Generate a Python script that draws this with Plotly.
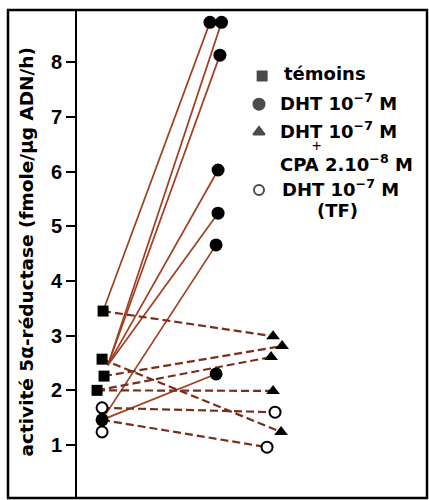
import plotly.graph_objects as go

# ---- data ----
# left (initial) column
temoins_x = [1.009, 1.0, 1.017, 0.957]
temoins_y = [3.45, 2.57, 2.26, 2.00]
dht_left_x = [1.0]
dht_left_y = [1.46]
tf_left_x = [1.0, 1.0]
tf_left_y = [1.68, 1.24]

# right columns
dht_x = [1.93, 2.03, 2.016, 2.0, 2.0, 1.983, 1.983]
dht_y = [8.73, 8.73, 8.13, 6.03, 5.24, 4.66, 2.30]
cpa_x = [2.474, 2.552, 2.457, 2.474, 2.543]
cpa_y = [2.99, 2.81, 2.61, 1.99, 1.24]
tf_x = [2.491, 2.422]
tf_y = [1.60, 0.96]

# connecting segments (start -> end)
solid_x0 = [1.009, 1.05, 1.05, 1.05, 1.05, 1.0, 1.0]
solid_y0 = [3.45, 2.46, 2.46, 2.46, 2.46, 1.46, 1.46]
solid_x1 = [1.93, 2.03, 2.016, 2.0, 2.0, 1.983, 1.983]
solid_y1 = [8.73, 8.73, 8.13, 6.03, 5.24, 4.66, 2.30]

dash_x0 = [1.009, 1.0, 1.017, 0.957, 0.957, 1.0, 1.0]
dash_y0 = [3.45, 2.57, 2.26, 2.00, 2.00, 1.68, 1.46]
dash_x1 = [2.474, 2.543, 2.552, 2.457, 2.474, 2.491, 2.422]
dash_y1 = [2.99, 1.24, 2.81, 2.61, 1.99, 1.60, 0.96]

y_ticks = [1, 2, 3, 4, 5, 6, 7, 8]


def segs(x0, y0, x1, y1):
    xs, ys = [], []
    for a, b, c, d in zip(x0, y0, x1, y1):
        xs += [a, c, None]
        ys += [b, d, None]
    return xs, ys


FONT = "Liberation Sans, Arial, Helvetica, sans-serif"
LFONT = "DejaVu Sans, Liberation Sans, Arial, sans-serif"

fig = go.Figure()

sx, sy = segs(solid_x0, solid_y0, solid_x1, solid_y1)
fig.add_trace(go.Scatter(x=sx, y=sy, mode="lines",
                         line=dict(color="#a03f1f", width=1.7),
                         hoverinfo="skip", showlegend=False))
dx, dy = segs(dash_x0, dash_y0, dash_x1, dash_y1)
fig.add_trace(go.Scatter(x=dx, y=dy, mode="lines",
                         line=dict(color="#7a2d1a", width=2.2, dash="8px,4px"),
                         hoverinfo="skip", showlegend=False))

fig.add_trace(go.Scatter(x=temoins_x, y=temoins_y, mode="markers",
                         marker=dict(symbol="square", size=11, color="black"),
                         showlegend=False))
fig.add_trace(go.Scatter(x=dht_left_x + dht_x, y=dht_left_y + dht_y, mode="markers",
                         marker=dict(symbol="circle", size=13, color="black"),
                         showlegend=False))
fig.add_trace(go.Scatter(x=cpa_x, y=cpa_y, mode="markers",
                         marker=dict(symbol="triangle-up", size=12, color="black"),
                         showlegend=False))
fig.add_trace(go.Scatter(x=tf_left_x + tf_x, y=tf_left_y + tf_y, mode="markers",
                         marker=dict(symbol="circle", size=11, color="white",
                                     line=dict(color="black", width=2)),
                         showlegend=False))

# legend symbols on an overlay axis in paper-like units
leg_sym = ["square", "circle", "triangle-up", "circle"]
leg_size = [9, 11, 10, 10]
leg_fill = ["black", "black", "black", "white"]
leg_px = [0.529, 0.52, 0.52, 0.52]
leg_py = [0.865, 0.807, 0.750, 0.631]
fig.add_trace(go.Scatter(x=leg_px, y=leg_py, xaxis="x2", yaxis="y2", mode="markers",
                         marker=dict(symbol=leg_sym, size=leg_size, color=leg_fill,
                                     line=dict(color="black", width=2)),
                         showlegend=False, hoverinfo="skip"))

tf = dict(family=LFONT, size=18, color="black", weight="bold")
ann = [
    dict(text="témoins", x=0.585, y=0.869),
    dict(text="DHT 10<sup>−7</sup> M", x=0.574, y=0.811),
    dict(text="DHT 10<sup>−7</sup> M", x=0.574, y=0.754),
    dict(text="CPA 2.10<sup>−8</sup> M", x=0.574, y=0.686),
    dict(text="DHT 10<sup>−7</sup> M", x=0.58, y=0.635),
]
annotations = []
for a in ann:
    annotations.append(dict(text=a["text"], x=a["x"], y=a["y"], xref="paper", yref="paper",
                            xanchor="left", yanchor="middle", showarrow=False, font=tf))
annotations.append(dict(text="+", x=0.683, y=0.722, xref="paper", yref="paper",
                        xanchor="center", yanchor="middle", showarrow=False,
                        font=dict(family=FONT, size=16, color="black")))
annotations.append(dict(text="(TF)", x=0.743, y=0.59, xref="paper", yref="paper",
                        xanchor="center", yanchor="middle", showarrow=False, font=tf))
annotations.append(dict(text="activité 5α-réductase (fmole/μg ADN/h)",
                        x=-0.143, y=0.505, xref="paper", yref="paper", textangle=-90,
                        xanchor="center", yanchor="middle", showarrow=False,
                        font=dict(family=LFONT, size=18.5, color="black", weight="bold")))

fig.update_layout(
    width=429, height=500,
    margin=dict(l=77, r=2, t=10, b=2),
    paper_bgcolor="white", plot_bgcolor="white",
    xaxis=dict(range=[0.784, 3.801], showgrid=False, zeroline=False,
               showticklabels=False, ticks="", showline=False, fixedrange=True),
    yaxis=dict(range=[0.031, 8.956], showgrid=False, zeroline=False,
               tickvals=y_ticks, ticks="outside", ticklen=9, tickwidth=2,
               tickcolor="black", showline=True, linecolor="black", linewidth=2,
               tickfont=dict(family=FONT, size=20, color="black", weight="bold"),
               automargin=False, fixedrange=True),
    xaxis2=dict(range=[0, 1], overlaying="x", visible=False, fixedrange=True),
    yaxis2=dict(range=[0, 1], overlaying="y", visible=False, fixedrange=True),
    annotations=annotations,
    shapes=[dict(type="rect", xref="paper", yref="paper",
                 x0=(8 - 77) / 350, x1=1.0, y0=0, y1=1.0,
                 line=dict(color="black", width=2.5))],
    showlegend=False,
)

fig.write_html("out.html", config={"displayModeBar": False},
               post_script="document.body.style.margin='0';document.body.style.overflow='hidden';")
